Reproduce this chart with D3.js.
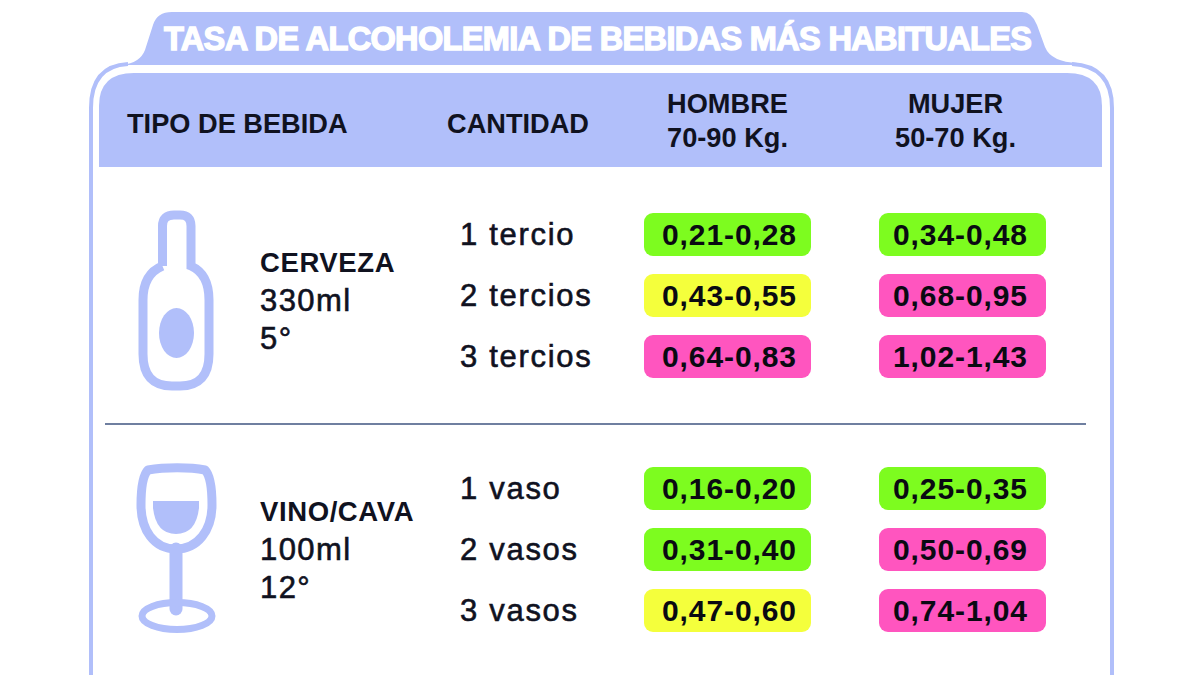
<!DOCTYPE html>
<html>
<head>
<meta charset="utf-8">
<style>
  html, body { margin: 0; padding: 0; background: #fff; }
  svg { display: block; }
  text { font-family: "Liberation Sans", Arial, sans-serif; fill: #10121f; }
</style>
</head>
<body>
<svg id="chart" width="1200" height="675"></svg>
<script src="https://cdn.jsdelivr.net/npm/d3@7"></script>
<script>
/* global d3 */

var titulo = 'TASA DE ALCOHOLEMIA DE BEBIDAS MÁS HABITUALES'
var bebidas = ['CERVEZA', 'VINO/CAVA']
var medidas = ['330ml', '100ml']
var grados = ['5°', '12°']
var cantidades = ['1 tercio', '2 tercios', '3 tercios', '1 vaso', '2 vasos', '3 vasos']
var hombreMin = [0.21, 0.43, 0.64, 0.16, 0.31, 0.47]
var hombreMax = [0.28, 0.55, 0.83, 0.20, 0.40, 0.60]
var mujerMin = [0.34, 0.68, 1.02, 0.25, 0.50, 0.74]
var mujerMax = [0.48, 0.95, 1.43, 0.35, 0.69, 1.04]
var niveles = [0.5, 0.65]
var colores = ['#7dfc1f', '#f4ff3c', '#ff55bf']

var azul = '#b1bffa'
var svg = d3.select('#chart')

var fmt = d3.formatLocale({ decimal: ',', thousands: '.', grouping: [3], currency: ['', ''] }).format('.2f')
var color = d3.scaleThreshold().domain(niveles).range(colores)

// filas: 0-2 cerveza, 3-5 vino, con un salto entre los dos grupos
var rowY = d3.scaleLinear().domain([0, 1]).range([234.5, 295.5])
function yFila (i) {
  return i < 3 ? rowY(i) : rowY(i) + 71
}
var colX = d3.scaleBand().domain(['hombre', 'mujer']).range([644, 1046]).paddingInner(68 / 235).paddingOuter(0)

// marco
svg.append('path')
  .attr('d', 'M1072 64 Q1112 66 1112 108 L1112 675 M128 64 Q91 66 91 108 L91 675')
  .attr('fill', 'none')
  .attr('stroke', azul)
  .attr('stroke-width', 4)

// pestaña del titulo
svg.append('path')
  .attr('d', 'M122 65 Q140 63 145 50 L153 25 Q157 12 172 12 L1022 12 Q1032 12 1037 25 L1045 47 Q1051 62 1078 63 L1078 65 Z')
  .attr('fill', azul)

svg.append('text')
  .attr('x', 164)
  .attr('y', 50)
  .attr('font-size', 32.5)
  .attr('font-weight', 'bold')
  .attr('textLength', 868)
  .attr('lengthAdjust', 'spacing')
  .style('fill', '#fff')
  .style('stroke', '#fff')
  .style('stroke-width', 1.4)
  .text(titulo)

// cabecera de la tabla
svg.append('path')
  .attr('d', 'M99 167 L99 106 Q99 73 134 73 L1067 73 Q1102 73 1102 106 L1102 167 Z')
  .attr('fill', azul)

var cabeceras = [
  ['TIPO DE BEBIDA', 127, 133, 'start'],
  ['CANTIDAD', 447, 133, 'start'],
  ['HOMBRE', 727.5, 113, 'middle'],
  ['70-90 Kg.', 727.5, 147, 'middle'],
  ['MUJER', 955.5, 113, 'middle'],
  ['50-70 Kg.', 955.5, 147, 'middle']
]
svg.selectAll('text.cabecera').data(cabeceras).enter().append('text')
  .attr('class', 'cabecera')
  .attr('x', function (d) { return d[1] })
  .attr('y', function (d) { return d[2] })
  .attr('text-anchor', function (d) { return d[3] })
  .attr('font-size', 27.2)
  .attr('font-weight', 'bold')
  .text(function (d) { return d[0] })

// separador
svg.append('line')
  .attr('x1', 105).attr('x2', 1086)
  .attr('y1', 424).attr('y2', 424)
  .attr('stroke', '#3f5480')
  .attr('stroke-width', 1.5)

// botella
var botella = svg.append('g')
botella.append('path')
  .attr('d', 'M162.5 266 L162.5 226 Q162.5 215 174 215 L180 215 Q191 215 191 226 L191 266 Q209 274 209 300 L209 354 Q209 386 180 386 L172 386 Q143 386 143 354 L143 300 Q143 274 162.5 266')
  .attr('fill', 'none')
  .attr('stroke', azul)
  .attr('stroke-width', 9)
botella.append('ellipse')
  .attr('cx', 176.5).attr('cy', 333).attr('rx', 17.5).attr('ry', 25)
  .attr('fill', azul)

// copa
var copa = svg.append('g')
copa.append('path')
  .attr('d', 'M148 470 C165 467 190 467 205 470 C211 476 212 490 212 505 C212 530 198 549 176 549 C154 549 141 530 141 505 C141 490 142 476 148 470 Z')
  .attr('fill', 'none')
  .attr('stroke', azul)
  .attr('stroke-width', 9)
  .attr('stroke-linejoin', 'round')
copa.append('path')
  .attr('d', 'M153 501 L199 501 L199 508 Q196 534 176 534 Q156 534 153 508 Z')
  .attr('fill', azul)
copa.append('path')
  .attr('d', 'M176 549 L176 609')
  .attr('stroke', azul)
  .attr('stroke-width', 13)
  .attr('stroke-linecap', 'round')
copa.append('ellipse')
  .attr('cx', 177).attr('cy', 616).attr('rx', 35).attr('ry', 13.5)
  .attr('fill', 'none')
  .attr('stroke', azul)
  .attr('stroke-width', 7)

// datos de cada bebida
var bloqueY = [272, 521]
bebidas.forEach(function (b, i) {
  var g = svg.append('g')
  g.append('text').attr('x', 260).attr('y', bloqueY[i])
    .attr('font-size', 27.5).attr('font-weight', 'bold').attr('letter-spacing', 0.6)
    .text(b)
  g.selectAll('text.medida').data([medidas[i], grados[i]]).enter().append('text')
    .attr('class', 'medida')
    .attr('x', 260)
    .attr('y', function (d, j) { return bloqueY[i] + 38.5 * (j + 1) })
    .attr('font-size', 31)
    .attr('letter-spacing', 1.4)
    .style('stroke', '#10121f')
    .style('stroke-width', 0.6)
    .text(function (d) { return d })
})

// cantidades
svg.selectAll('text.cantidad').data(cantidades).enter().append('text')
  .attr('class', 'cantidad')
  .attr('x', 460)
  .attr('y', function (d, i) { return yFila(i) + 10 })
  .attr('font-size', 31)
  .attr('letter-spacing', 1.7)
  .style('stroke', '#10121f')
  .style('stroke-width', 0.6)
  .text(function (d) { return d })

// celdas
function columna (clave, mins, maxs) {
  var g = svg.append('g')
  var filas = g.selectAll('g').data(cantidades).enter().append('g')
    .attr('transform', function (d, i) { return 'translate(' + colX(clave) + ',' + yFila(i) + ')' })
  filas.append('rect')
    .attr('y', -21.5)
    .attr('width', colX.bandwidth())
    .attr('height', 43)
    .attr('rx', 9)
    .attr('fill', function (d, i) { return color(maxs[i]) })
  filas.append('text')
    .attr('x', clave === 'hombre' ? 18 : 14)
    .attr('y', 10)
    .attr('font-size', 30)
    .attr('font-weight', 'bold')
    .attr('letter-spacing', 0.9)
    .style('fill', '#0a0a12')
    .text(function (d, i) { return fmt(mins[i]) + '-' + fmt(maxs[i]) })
}
columna('hombre', hombreMin, hombreMax)
columna('mujer', mujerMin, mujerMax)
</script>
</body>
</html>
